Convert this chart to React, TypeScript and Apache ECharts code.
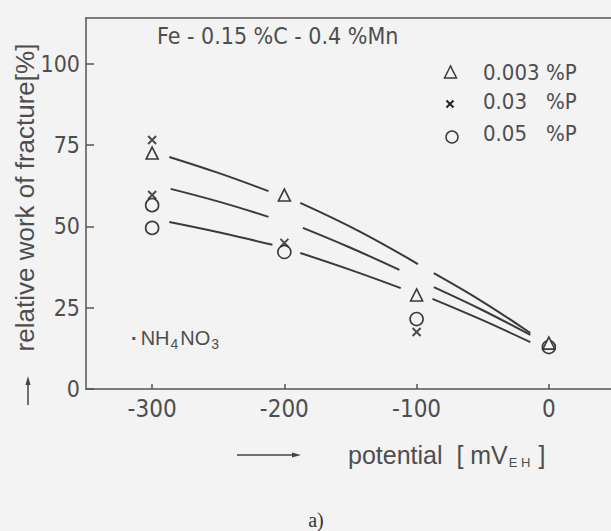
import React, { useEffect, useRef } from "react";
import * as echarts from "echarts";

// ---- data ----
const xTicks = [-300, -200, -100, 0];
const yTicks = [0, 25, 50, 75, 100];
const seriesNames = ["0.003 %P", "0.03   %P", "0.05   %P"];
const titleText = "Fe - 0.15 %C - 0.4 %Mn";
const xName = "potential";
const yName = "relative work of fracture[%]";

const triPoints = [[-300, 72.5], [-200, 59.6], [-100, 28.9], [0, 14.1]];
const crossPoints = [[-300, 76.5], [-300, 59.6], [-200, 44.9], [-100, 17.5]];
const circlePoints = [[-300, 56.5], [-300, 49.5], [-200, 42.1], [-100, 21.5], [0, 12.9]];

// fitted curves, drawn in segments (gaps around the measuring points)
const upperCurve = [
  [[-287, 71.3], [-250, 66.4], [-212, 60.8]],
  [[-188, 57.2], [-144, 48.6], [-99, 38.4]],
  [[-87, 35.6], [-50, 26.8], [-14, 17.2]],
];
const middleCurve = [
  [[-286, 61.5], [-249, 57.5], [-212, 52.9]],
  [[-186, 49.5], [-150, 43.4], [-113, 36.6]],
  [[-87, 31.3], [-50, 24.2], [-14, 16.6]],
];
const lowerCurve = [
  [[-287, 51.3], [-248, 48.0], [-209, 44.3]],
  [[-188, 41.8], [-150, 36.6], [-112, 31.0]],
  [[-88, 27.7], [-51, 21.3], [-14, 14.4]],
];

const X_MIN = -350;
const X_MAX = 47;
const Y_MIN = 0;
const Y_MAX = 114;

const BG = "#f3f3f3";
const INK = "#3a3a3a";
const TEXT = "#4e4e4e";
const NARROW = '"Liberation Sans Narrow", "DejaVu Sans Condensed", "Liberation Sans", sans-serif';
const REG = '"Liberation Sans", "DejaVu Sans", sans-serif';

export default function App() {
  const ref = useRef<HTMLDivElement>(null);

  useEffect(() => {
    document.body.style.margin = "0";
    document.body.style.background = BG;
    const chart = echarts.init(ref.current!, undefined, { renderer: "svg" });

    const curveSeries: any[] = [];
    [upperCurve, middleCurve, lowerCurve].forEach((curve, ci) => {
      curve.forEach((seg, si) => {
        curveSeries.push({
          name: "curve" + ci + "-" + si,
          type: "line",
          data: seg,
          smooth: 0.4,
          symbol: "none",
          lineStyle: { color: INK, width: 2 },
          z: 2,
          silent: true,
        });
      });
    });

    const axisLineStyle = { color: "#555", width: 1.5 };

    const option: any = {
      animation: false,
      backgroundColor: BG,
      grid: { left: 86, right: 0, top: 18, bottom: 142, containLabel: false, outerBoundsMode: "none" },
      xAxis: [
        {
          type: "value",
          min: X_MIN,
          max: X_MAX,
          interval: 50,
          axisLine: { show: true, onZero: false, lineStyle: axisLineStyle },
          axisTick: {
            show: true,
            inside: true,
            length: 5,
            customValues: xTicks,
            lineStyle: axisLineStyle,
          },
          axisLabel: {
            customValues: xTicks,
            margin: 8,
            color: TEXT,
            fontFamily: NARROW,
            fontSize: 24,
          },
          splitLine: { show: false },
        },
        {
          type: "value",
          position: "top",
          min: X_MIN,
          max: X_MAX,
          axisLine: { show: true, onZero: false, lineStyle: axisLineStyle },
          axisTick: { show: false },
          axisLabel: { show: false },
          splitLine: { show: false },
        },
      ],
      yAxis: {
        type: "value",
        min: Y_MIN,
        max: Y_MAX,
        interval: 25,
        name: yName,
        nameLocation: "middle",
        nameGap: 48,
        nameMoveOverlap: false,
        nameTextStyle: {
          color: TEXT,
          fontFamily: REG,
          fontSize: 26,
          padding: [0, 0, 0, 12],
        },
        axisLine: { show: true, onZero: false, lineStyle: axisLineStyle },
        axisTick: {
          show: true,
          inside: true,
          length: 8,
          customValues: yTicks,
          lineStyle: axisLineStyle,
        },
        axisLabel: {
          customValues: yTicks,
          margin: 6,
          color: TEXT,
          fontFamily: NARROW,
          fontSize: 23,
        },
        splitLine: { show: false },
      },
      series: [
        ...curveSeries,
        {
          name: seriesNames[0],
          type: "scatter",
          data: triPoints,
          symbol: "triangle",
          symbolSize: [12, 12],
          itemStyle: { color: BG, borderColor: INK, borderWidth: 1.6, opacity: 1 },
          z: 4,
        },
        {
          name: seriesNames[2],
          type: "scatter",
          data: circlePoints,
          symbol: "circle",
          symbolSize: 13,
          itemStyle: { color: BG, borderColor: INK, borderWidth: 1.6, opacity: 1 },
          z: 3,
        },
        {
          name: seriesNames[1],
          type: "scatter",
          data: crossPoints,
          symbol: "path://M0,0L10,10M10,0L0,10",
          symbolSize: 8,
          itemStyle: { color: "none", borderColor: "#222", borderWidth: 2 },
          z: 5,
        },
      ],
      graphic: [
        {
          type: "text",
          x: 157,
          y: 36,
          style: { text: titleText, fill: TEXT, font: `23px ${NARROW}`, verticalAlign: "middle" },
        },
        // legend
        {
          type: "polygon",
          shape: { points: [[450.5, 66], [444.5, 78], [456.5, 78]] },
          style: { fill: "none", stroke: INK, lineWidth: 1.5 },
        },
        { type: "line", shape: { x1: 446.5, y1: 100.5, x2: 453.5, y2: 107.5 }, style: { stroke: "#222", lineWidth: 2 } },
        { type: "line", shape: { x1: 453.5, y1: 100.5, x2: 446.5, y2: 107.5 }, style: { stroke: "#222", lineWidth: 2 } },
        {
          type: "circle",
          shape: { cx: 452, cy: 137, r: 6 },
          style: { fill: "none", stroke: INK, lineWidth: 1.5 },
        },
        {
          type: "text",
          x: 483,
          y: 72,
          style: { text: seriesNames[0], fill: TEXT, font: `22px ${NARROW}`, verticalAlign: "middle" },
        },
        {
          type: "text",
          x: 483,
          y: 101,
          style: { text: seriesNames[1], fill: TEXT, font: `22px ${NARROW}`, verticalAlign: "middle" },
        },
        {
          type: "text",
          x: 483,
          y: 133,
          style: { text: seriesNames[2], fill: TEXT, font: `22px ${NARROW}`, verticalAlign: "middle" },
        },
        // NH4NO3 annotation
        {
          type: "text",
          x: 131,
          y: 338,
          style: {
            text: "{m|·}{t|NH}{s|4}{t|NO}{s|3}",
            verticalAlign: "middle",
            rich: {
              m: { fill: TEXT, font: `bold 20px ${REG}`, padding: [0, 3, 0, 0] },
              t: { fill: TEXT, font: `20px ${REG}` },
              s: { fill: TEXT, font: `14px ${REG}`, padding: [12, 2, 0, 1] },
            },
          },
        },
        // y arrow
        { type: "line", shape: { x1: 28, y1: 405, x2: 28, y2: 380 }, style: { stroke: "#444", lineWidth: 1.5 } },
        {
          type: "polygon",
          shape: { points: [[28, 376], [25.5, 385], [30.5, 385]] },
          style: { fill: "#444" },
        },
        // x arrow
        { type: "line", shape: { x1: 237, y1: 455, x2: 296, y2: 455 }, style: { stroke: "#444", lineWidth: 1.5 } },
        {
          type: "polygon",
          shape: { points: [[301, 455], [292, 452.5], [292, 457.5]] },
          style: { fill: "#444" },
        },
        // x axis name
        {
          type: "text",
          x: 348,
          y: 455,
          style: {
            text: "{t|" + xName + "}{g|  }{t|[ mV}{s|E H}{t| ]}",
            verticalAlign: "middle",
            rich: {
              t: { fill: TEXT, font: `25px ${REG}` },
              g: { fill: TEXT, font: `25px ${REG}` },
              s: { fill: TEXT, font: `13px ${REG}`, padding: [14, 1, 0, 1] },
            },
          },
        },
        {
          type: "text",
          x: 316,
          y: 520,
          style: {
            text: "a)",
            fill: "#333",
            font: `20px "Liberation Serif", "DejaVu Serif", serif`,
            align: "center",
            verticalAlign: "middle",
          },
        },
      ],
    };

    chart.setOption(option);
    return () => chart.dispose();
  }, []);

  return (
    <div
      ref={ref}
      style={{ position: "absolute", left: 0, top: 0, width: 611, height: 531, background: BG }}
    />
  );
}
